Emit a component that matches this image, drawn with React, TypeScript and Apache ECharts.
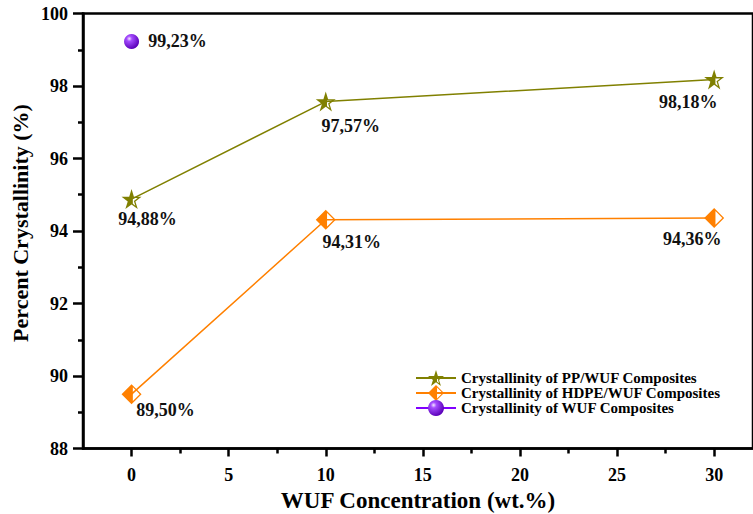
import React, { useEffect, useRef } from 'react';
import * as echarts from 'echarts';

// ---------- data ----------
const concentrations = [0, 10, 30];
const ppCrystallinity = [94.88, 97.57, 98.18];
const hdpeCrystallinity = [89.5, 94.31, 94.36];
const wufConcentration = [0];
const wufCrystallinity = [99.23];
const xMajorTicks = [0, 5, 10, 15, 20, 25, 30];
const xMinorTicks = [2.5, 7.5, 12.5, 17.5, 22.5, 27.5];
const seriesNames = [
  'Crystallinity of PP/WUF Composites',
  'Crystallinity of HDPE/WUF Composites',
  'Crystallinity of WUF Composites',
];

// ---------- styles ----------
const ppLabelOffsets = [[16, 20], [25, 24], [-26, 23]];
const hdpeLabelOffsets = [[34, 16], [26, 22], [-22, 21]];
const wufLabelOffsets = [[46, 0]];

const OLIVE = '#808000';
const ORANGE = '#FF8000';
const FONT = 'Liberation Serif, Times New Roman, serif';

const deg = Math.PI / 180;
const f = (n: number) => n.toFixed(3);

function starPts(R: number, r: number) {
  const pts: number[][] = [];
  for (let k = 0; k < 10; k++) {
    const a = (-90 + 36 * k) * deg;
    const rad = k % 2 === 0 ? R : r;
    pts.push([rad * Math.cos(a), rad * Math.sin(a)]);
  }
  return pts;
}
function clipX(p: number[], q: number[], x: number) {
  const s = (x - p[0]) / (q[0] - p[0]);
  return [x, p[1] + s * (q[1] - p[1])];
}
function poly(pts: number[][]) {
  return 'M' + pts.map((p) => f(p[0]) + ',' + f(p[1])).join('L') + 'Z';
}
function halfStarPath() {
  const R = 10, r = 3.82, t = 1.2;
  const outer = starPts(R, r);
  const inn = starPts(R - t / Math.sin(18 * deg), r - t / Math.sin(54 * deg));
  const top = clipX(inn[0], inn[1], t);
  const bot = clipX(inn[4], inn[5], t);
  const hole = [top, bot, inn[4], inn[3], inn[2], inn[1]];
  return 'path://' + poly(outer) + poly(hole);
}
function halfDiamondPath() {
  const t = 1.3;
  const outer = [[0, -10], [10, 0], [0, 10], [-10, 0]];
  const a = 10 - Math.SQRT2 * t - t;
  const hole = [[t, -a], [t, a], [10 - Math.SQRT2 * t, 0]];
  return 'path://' + poly(outer) + poly(hole);
}

const fmt = (v: number) => v.toFixed(2).replace('.', ',') + '%';

const labelStyle = {
  show: true,
  position: 'inside' as const,
  color: '#111',
  fontSize: 18,
  fontWeight: 'bold' as const,
  fontFamily: FONT,
  formatter: (p: any) => fmt(p.value[1]),
};

export default function App() {
  const ref = useRef<HTMLDivElement>(null);
  useEffect(() => {
    if (!ref.current) return;
    const chart = echarts.init(ref.current, undefined, { renderer: 'svg' });
    const sphere = new echarts.graphic.RadialGradient(0.35, 0.32, 0.7, [
      { offset: 0, color: '#f4e8ff' },
      { offset: 0.25, color: '#a54dff' },
      { offset: 1, color: '#5a00b8' },
    ]);
    chart.setOption({
      animation: false,
      backgroundColor: '#fff',
      grid: {
        left: 83,
        right: 0,
        top: 13.5,
        bottom: 65.5,
        outerBoundsMode: 'none',
        containLabel: false,
        show: true,
        borderColor: '#000',
        borderWidth: 2.5,
        backgroundColor: 'transparent',
      },
      legend: {
        orient: 'vertical',
        left: 410,
        top: 365,
        itemWidth: 40,
        itemHeight: 20,
        itemGap: -1,
        textStyle: { fontSize: 15, fontWeight: 'bold', fontFamily: FONT, color: '#000' },
        data: seriesNames,
      },
      graphic: [
        {
          type: 'text',
          x: 20,
          y: 223,
          rotation: Math.PI / 2,
          style: {
            text: 'Percent Crystallinity (%)',
            font: 'bold 22px Liberation Serif, serif',
            fill: '#000',
            align: 'center',
            verticalAlign: 'middle',
          },
        },
      ],
      xAxis: [
        {
          type: 'value',
          min: -2.5,
          max: 32,
          position: 'bottom',
          axisLine: { show: true, onZero: false, lineStyle: { color: '#000', width: 2.5 } },
          axisTick: {
            show: true,
            inside: false,
            length: 8,
            customValues: xMajorTicks,
            lineStyle: { color: '#000', width: 2.5 },
          },
          axisLabel: {
            customValues: xMajorTicks,
            fontSize: 18,
            fontWeight: 'bold',
            fontFamily: FONT,
            color: '#000',
            margin: 17,
          },
          splitLine: { show: false },
          name: 'WUF Concentration (wt.%)',
          nameLocation: 'middle',
          nameGap: 40,
          nameTextStyle: { fontSize: 23, fontWeight: 'bold', fontFamily: FONT, color: '#000' },
        },
        {
          type: 'value',
          min: -2.5,
          max: 32,
          position: 'bottom',
          axisLine: { show: false, onZero: false },
          axisTick: {
            show: true,
            inside: false,
            length: 5,
            customValues: xMinorTicks,
            lineStyle: { color: '#000', width: 2.5 },
          },
          axisLabel: { show: false },
          splitLine: { show: false },
        },
      ],
      yAxis: {
        type: 'value',
        min: 88,
        max: 100,
        interval: 2,
        axisLine: { show: true, onZero: false, lineStyle: { color: '#000', width: 2.5 } },
        axisTick: { show: true, inside: false, length: 10, lineStyle: { color: '#000', width: 2.5 } },
        minorTick: { show: true, splitNumber: 2, length: 5, lineStyle: { color: '#000', width: 2.5 } },
        axisLabel: { fontSize: 18, fontWeight: 'bold', fontFamily: FONT, color: '#000', margin: 15 },
        splitLine: { show: false },
        minorSplitLine: { show: false },
      },
      series: [
        {
          type: 'line',
          name: seriesNames[0],
          xAxisIndex: 0,
          symbol: halfStarPath(),
          symbolSize: 20,
          lineStyle: { color: OLIVE, width: 1.5 },
          itemStyle: { color: OLIVE, borderWidth: 0 },
          label: labelStyle,
          data: concentrations.map((x, i) => ({
            value: [x, ppCrystallinity[i]],
            label: { offset: ppLabelOffsets[i] },
          })),
          z: 3,
        },
        {
          type: 'line',
          name: seriesNames[1],
          xAxisIndex: 0,
          symbol: halfDiamondPath(),
          symbolSize: 20,
          lineStyle: { color: ORANGE, width: 1.5 },
          itemStyle: { color: ORANGE, borderWidth: 0 },
          label: labelStyle,
          data: concentrations.map((x, i) => ({
            value: [x, hdpeCrystallinity[i]],
            label: { offset: hdpeLabelOffsets[i] },
          })),
          z: 3,
        },
        {
          type: 'line',
          name: seriesNames[2],
          xAxisIndex: 0,
          symbol: 'circle',
          symbolSize: 15,
          lineStyle: { color: '#8000FF', width: 1.5 },
          itemStyle: { color: sphere, borderWidth: 0 },
          label: labelStyle,
          data: wufConcentration.map((x, i) => ({
            value: [x, wufCrystallinity[i]],
            label: { offset: wufLabelOffsets[i] },
          })),
          z: 3,
        },
      ],
    });
    return () => chart.dispose();
  }, []);
  return (
    <div
      ref={ref}
      style={{ position: 'fixed', left: 0, top: 0, width: 753, height: 514, background: '#fff' }}
    />
  );
}
